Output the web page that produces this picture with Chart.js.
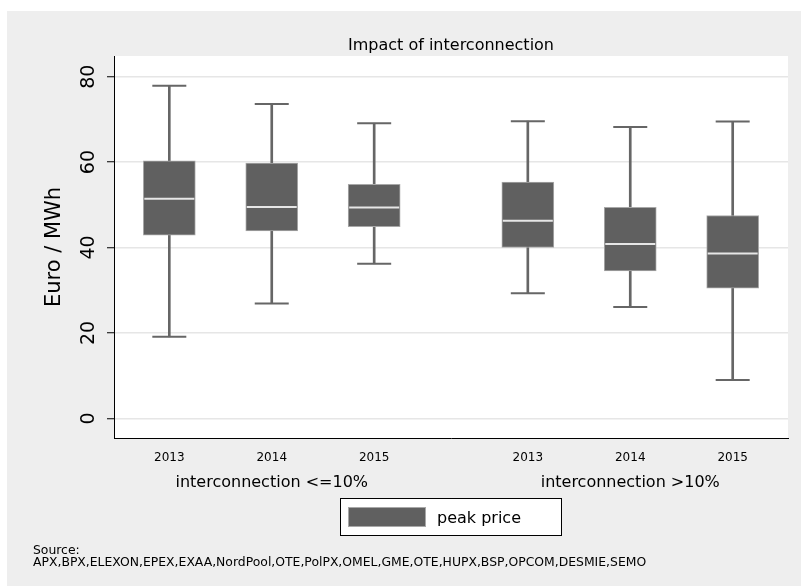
<!DOCTYPE html>
<html>
<head>
<meta charset="utf-8">
<script src="https://cdn.jsdelivr.net/npm/chart.js@4.4.1/dist/chart.umd.min.js"></script>
<style>
  html, body { margin: 0; padding: 0; background: #fff; }
  canvas { display: block; }
</style>
</head>
<body>
<canvas id="myChart" width="801" height="586"></canvas>
<script>
// Textes
var chartTitle = 'Impact of interconnection';
var yTitle = 'Euro / MWh';
var groups = ['interconnection <=10%', 'interconnection >10%'];
var seriesLabel = 'peak price';
var sourceNote = ['Source:', 'APX,BPX,ELEXON,EPEX,EXAA,NordPool,OTE,PolPX,OMEL,GME,OTE,HUPX,BSP,OPCOM,DESMIE,SEMO'];

// Catégories (position sur l'axe x, avec un demi-écart entre les deux groupes)
var years = ['2013', '2014', '2015', '2013', '2014', '2015'];
var slots = [0, 1, 2, 3.5, 4.5, 5.5];
var groupSlots = [1, 4.5];

// Boîtes à moustaches (Euro / MWh)
var whiskerLow  = [19.1, 26.9, 36.2, 29.3, 26.1,  9.0];
var q1          = [42.9, 43.9, 44.9, 40.0, 34.5, 30.5];
var median      = [51.4, 49.5, 49.4, 46.3, 40.8, 38.6];
var q3          = [60.3, 59.8, 54.8, 55.3, 49.4, 47.5];
var whiskerHigh = [77.9, 73.6, 69.1, 69.6, 68.2, 69.5];

var yTicks = [0, 20, 40, 60, 80];

Chart.defaults.font.family = '"DejaVu Sans", Verdana, sans-serif';

// Fond, titre, libellés de groupe, légende et source
var decor = {
    id: 'decor',
    beforeDraw: function(chart) {
        var ctx = chart.ctx, a = chart.chartArea;
        ctx.save();
        ctx.fillStyle = '#ffffff';
        ctx.fillRect(0, 0, chart.width, chart.height);
        ctx.fillStyle = '#eeeeee';
        ctx.fillRect(7, 11, chart.width - 7, chart.height - 11);
        ctx.fillStyle = '#ffffff';
        ctx.fillRect(a.left, a.top, a.right - a.left, a.bottom - a.top);
        ctx.restore();
    },
    afterDraw: function(chart) {
        var ctx = chart.ctx, a = chart.chartArea, xs = chart.scales.x;
        var mid = (a.left + a.right) / 2;
        ctx.save();
        ctx.fillStyle = '#000';
        ctx.textBaseline = 'alphabetic';
        ctx.textAlign = 'center';
        ctx.font = '16px "DejaVu Sans"';
        ctx.fillText(chartTitle, mid, 49.5);
        for (var i = 0; i < groups.length; i++) {
            ctx.fillText(groups[i], xs.getPixelForValue(groupSlots[i]), 487);
        }

        // légende
        var ds = chart.data.datasets[2];
        var lw = 222, lx = Math.round(mid - lw / 2);
        ctx.fillStyle = '#fff';
        ctx.fillRect(lx, 498, lw, 38);
        ctx.strokeStyle = '#000';
        ctx.lineWidth = 1;
        ctx.strokeRect(lx + 0.5, 498.5, lw - 1, 37);
        ctx.fillStyle = ds.backgroundColor;
        ctx.fillRect(lx + 8, 507, 78, 20);
        ctx.strokeStyle = ds.borderColor;
        ctx.strokeRect(lx + 8.5, 507.5, 77, 19);
        ctx.fillStyle = '#000';
        ctx.textAlign = 'left';
        ctx.fillText(ds.label, lx + 97, 523);

        // source
        ctx.font = '12.4px "DejaVu Sans"';
        ctx.fillText(sourceNote[0], 33, 554);
        ctx.fillText(sourceNote[1], 33, 565.5);
        ctx.restore();
    }
};

var ctx = document.getElementById('myChart').getContext('2d');
var myChart = new Chart(ctx, {
    type: 'bar',
    data: {
        datasets: [{
            type: 'scatter',
            label: 'median',
            data: slots.map(function(s, i) { return {x: s, y: median[i]}; }),
            pointStyle: 'line',
            pointRadius: 25,
            borderColor: '#e6e6e6',
            borderWidth: 2,
            order: 0
        }, {
            type: 'scatter',
            label: 'caps',
            data: slots.map(function(s, i) { return {x: s, y: whiskerLow[i]}; })
                .concat(slots.map(function(s, i) { return {x: s, y: whiskerHigh[i]}; })),
            pointStyle: 'line',
            pointRadius: 17,
            borderColor: '#666666',
            borderWidth: 2,
            order: 1
        }, {
            type: 'bar',
            label: seriesLabel,
            data: slots.map(function(s, i) { return {x: s, y: [q1[i], q3[i]]}; }),
            backgroundColor: '#606060',
            borderColor: '#a8a8a8',
            borderWidth: 1,
            borderSkipped: false,
            barThickness: 52,
            grouped: false,
            order: 2
        }, {
            type: 'bar',
            label: 'whisker',
            data: slots.map(function(s, i) { return {x: s, y: [whiskerLow[i], whiskerHigh[i]]}; }),
            backgroundColor: '#666666',
            borderWidth: 0,
            barThickness: 2,
            grouped: false,
            order: 3
        }]
    },
    options: {
        responsive: false,
        animation: false,
        devicePixelRatio: 1,
        layout: { autoPadding: false, padding: { left: 0, top: 56, right: 13, bottom: 0 } },
        plugins: {
            legend: { display: false },
            tooltip: { enabled: false },
            title: { display: false }
        },
        scales: {
            x: {
                type: 'linear',
                min: -0.54,
                max: 6.04,
                offset: false,
                afterBuildTicks: function(s) { s.ticks = slots.map(function(v) { return {value: v}; }); },
                afterFit: function(s) { s.height = 148; s.paddingLeft = 0; s.paddingRight = 0; },
                grid: { display: false, drawTicks: false },
                border: { display: true, color: '#000', width: 1 },
                ticks: {
                    callback: function(v, i) { return years[i]; },
                    font: { size: 12 },
                    color: '#000',
                    padding: 13,
                    autoSkip: false,
                    minRotation: 0,
                    maxRotation: 0
                }
            },
            y: {
                type: 'linear',
                min: -4.6,
                max: 84.85,
                afterBuildTicks: function(s) { s.ticks = yTicks.map(function(v) { return {value: v}; }); },
                afterFit: function(s) { s.width = 114; s.paddingTop = 0; s.paddingBottom = 0; },
                grid: { color: '#e6e6e6', lineWidth: 1.5, tickColor: '#000', tickLength: 7, tickWidth: 1 },
                border: { color: '#000', width: 1 },
                ticks: {
                    font: { size: 19 },
                    color: '#000',
                    minRotation: 90,
                    maxRotation: 90,
                    crossAlign: 'center',
                    padding: 6
                },
                title: {
                    display: true,
                    text: yTitle,
                    font: { size: 21 },
                    color: '#000',
                    padding: { top: 42, bottom: 0 }
                }
            }
        }
    },
    plugins: [decor]
});
</script>
</body>
</html>
